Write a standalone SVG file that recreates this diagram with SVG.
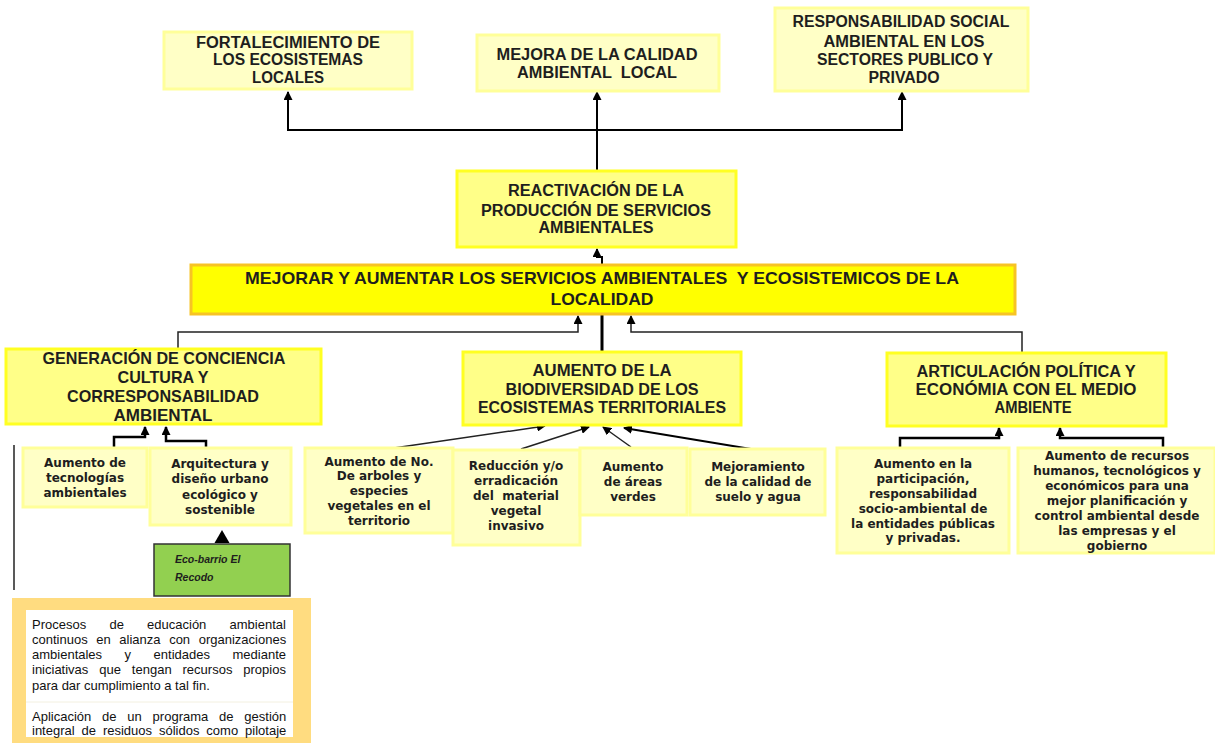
<svg xmlns="http://www.w3.org/2000/svg" width="1215" height="743" viewBox="0 0 1215 743">
<style>
.lt{fill:#FFFFC6;stroke:#FFFF99;stroke-width:3}
.md{fill:#FFFF88;stroke:#FFFF22;stroke-width:3}
.h{font-family:"Liberation Sans",Arial,sans-serif;font-weight:bold;font-size:16px;fill:#1E1E1E;text-anchor:middle}
.c{font-family:"DejaVu Sans",Verdana,sans-serif;font-weight:bold;font-size:12px;fill:#1E1E1E;text-anchor:middle}
.p{font-family:"Liberation Sans",Arial,sans-serif;font-size:13px;fill:#111}
.ln{fill:none;stroke:#000;stroke-width:2}
.tn{fill:none;stroke:#222;stroke-width:1.5}
.pre{white-space:pre}
</style>
<defs>
<marker id="ah" markerUnits="userSpaceOnUse" markerWidth="9" markerHeight="9" refX="8" refY="4.5" orient="auto">
<path d="M0,0 L9,4.5 L0,9 z" fill="#000"/>
</marker>
</defs>
<rect width="1215" height="743" fill="#fff"/>

<g id="connectors">
<path class="ln" d="M597,171 V92" marker-end="url(#ah)"/>
<path class="ln" d="M597,130 H288 V92" marker-end="url(#ah)"/>
<path class="ln" d="M597,130 H902 V92" marker-end="url(#ah)"/>
<path class="ln" d="M602,265 V257 H597 V249" marker-end="url(#ah)"/>
<path class="ln" d="M602,352 V315" style="stroke-width:3"/>
<path class="tn" d="M178,349 V332 H578 V316" marker-end="url(#ah)"/>
<path class="tn" d="M1022,353 V332 H631 V316" marker-end="url(#ah)"/>
<path class="ln" d="M114,448 V437 H145 V427" style="stroke-width:2.5" marker-end="url(#ah)"/>
<path class="ln" d="M206,448 V441 H166 V427" style="stroke-width:2.5" marker-end="url(#ah)"/>
<path class="tn" d="M387,449 L545,426" marker-end="url(#ah)"/>
<path class="tn" d="M521,449 L589,427" marker-end="url(#ah)"/>
<path class="tn" d="M631,447 L603,427" marker-end="url(#ah)"/>
<path class="ln" d="M757,450 L624,428" marker-end="url(#ah)"/>
<path class="ln" d="M900,448 V438 H999 V428" style="stroke-width:2.5" marker-end="url(#ah)"/>
<path class="ln" d="M1163,448 V438 H1060 V428" style="stroke-width:2.5" marker-end="url(#ah)"/>
<polygon points="222,530 214.5,543 229.5,543" fill="#000"/>
<line x1="14" y1="445" x2="14" y2="590" stroke="#222" stroke-width="1.5"/>
</g>

<g id="n-fortalecimiento">
<rect class="lt" x="164" y="32" width="248" height="57"/>
<text class="h" x="288" y="48" textLength="184" lengthAdjust="spacingAndGlyphs">FORTALECIMIENTO DE</text>
<text class="h" x="288" y="65" textLength="150" lengthAdjust="spacingAndGlyphs">LOS ECOSISTEMAS</text>
<text class="h" x="288" y="83" textLength="72" lengthAdjust="spacingAndGlyphs">LOCALES</text>
</g>

<g id="n-mejora">
<rect class="lt" x="477" y="35" width="242" height="56"/>
<text class="h" x="597" y="60" textLength="201" lengthAdjust="spacingAndGlyphs">MEJORA DE LA CALIDAD</text>
<text class="h pre" x="597" y="78" textLength="160" lengthAdjust="spacingAndGlyphs">AMBIENTAL  LOCAL</text>
</g>

<g id="n-responsabilidad">
<rect class="lt" x="775" y="8" width="253" height="83"/>
<text class="h" x="901" y="27" textLength="217" lengthAdjust="spacingAndGlyphs">RESPONSABILIDAD SOCIAL</text>
<text class="h" x="904" y="47" textLength="161" lengthAdjust="spacingAndGlyphs">AMBIENTAL EN LOS</text>
<text class="h" x="905" y="65" textLength="176" lengthAdjust="spacingAndGlyphs">SECTORES PUBLICO Y</text>
<text class="h" x="904" y="83" textLength="71" lengthAdjust="spacingAndGlyphs">PRIVADO</text>
</g>

<g id="n-reactivacion">
<rect class="md" x="457" y="171" width="279" height="76"/>
<text class="h" x="596" y="196" textLength="176" lengthAdjust="spacingAndGlyphs">REACTIVACIÓN DE LA</text>
<text class="h" x="596" y="216" textLength="230" lengthAdjust="spacingAndGlyphs">PRODUCCIÓN DE SERVICIOS</text>
<text class="h" x="596" y="233" textLength="115" lengthAdjust="spacingAndGlyphs">AMBIENTALES</text>
</g>

<g id="n-mejorar">
<rect x="191" y="265" width="824" height="49" fill="#FFFF00" stroke="#F7C325" stroke-width="3"/>
<text class="h pre" x="602" y="284" style="font-size:17px" textLength="714" lengthAdjust="spacingAndGlyphs">MEJORAR Y AUMENTAR LOS SERVICIOS AMBIENTALES  Y ECOSISTEMICOS DE LA</text>
<text class="h" x="602" y="305" style="font-size:17px" textLength="103" lengthAdjust="spacingAndGlyphs">LOCALIDAD</text>
</g>

<g id="n-generacion">
<rect class="md" x="6" y="349" width="315" height="75"/>
<text class="h" x="164" y="364" style="font-size:17px" textLength="243" lengthAdjust="spacingAndGlyphs">GENERACIÓN DE CONCIENCIA</text>
<text class="h" x="163" y="383" style="font-size:17px" textLength="91" lengthAdjust="spacingAndGlyphs">CULTURA Y</text>
<text class="h" x="163" y="402" style="font-size:17px" textLength="192" lengthAdjust="spacingAndGlyphs">CORRESPONSABILIDAD</text>
<text class="h" x="163" y="421" style="font-size:17px" textLength="99" lengthAdjust="spacingAndGlyphs">AMBIENTAL</text>
</g>

<g id="n-biodiversidad">
<rect class="md" x="463" y="352" width="278" height="73"/>
<text class="h" x="602" y="376" textLength="139" lengthAdjust="spacingAndGlyphs">AUMENTO DE LA</text>
<text class="h" x="602" y="395" textLength="193" lengthAdjust="spacingAndGlyphs">BIODIVERSIDAD DE LOS</text>
<text class="h" x="602" y="413" textLength="248" lengthAdjust="spacingAndGlyphs">ECOSISTEMAS TERRITORIALES</text>
</g>

<g id="n-articulacion">
<rect class="md" x="887" y="353" width="279" height="73"/>
<text class="h" x="1026" y="377" textLength="219" lengthAdjust="spacingAndGlyphs">ARTICULACIÓN POLÍTICA Y</text>
<text class="h" x="1026" y="395" textLength="221" lengthAdjust="spacingAndGlyphs">ECONÓMIA CON EL MEDIO</text>
<text class="h" x="1033" y="413" textLength="77" lengthAdjust="spacingAndGlyphs">AMBIENTE</text>
</g>

<g id="n-tecnologias">
<rect class="lt" x="23" y="448" width="124" height="59"/>
<text class="c" x="85" y="467">Aumento de</text>
<text class="c" x="85" y="482">tecnologías</text>
<text class="c" x="85" y="497">ambientales</text>
</g>

<g id="n-arquitectura">
<rect class="lt" x="150" y="448" width="141" height="77"/>
<text class="c" x="220" y="468">Arquitectura y</text>
<text class="c" x="220" y="483">diseño urbano</text>
<text class="c" x="220" y="499">ecológico y</text>
<text class="c" x="220" y="514">sostenible</text>
</g>

<g id="n-ecobarrio">
<rect x="154" y="544" width="136" height="52" fill="#92D050" stroke="#333" stroke-width="1.5"/>
<text x="175" y="563" font-family="Liberation Sans, Arial, sans-serif" font-weight="bold" font-style="italic" font-size="10.5" fill="#1E1E1E">Eco-barrio El</text>
<text x="175" y="581" font-family="Liberation Sans, Arial, sans-serif" font-weight="bold" font-style="italic" font-size="10.5" fill="#1E1E1E">Recodo</text>
</g>

<g id="n-procesos">
<rect x="12" y="598" width="299" height="145" fill="#FFDC80"/>
<rect x="26" y="610" width="267" height="127" fill="#fff"/>
<line x1="26" y1="702" x2="293" y2="702" stroke="#F3F0E0" stroke-width="1"/>
<text class="p" x="32" y="629" word-spacing="19.6">Procesos de educación ambiental</text>
<text class="p" x="32" y="644" word-spacing="5">continuos en alianza con organizaciones</text>
<text class="p" x="32" y="659" word-spacing="18.9">ambientales y entidades mediante</text>
<text class="p" x="32" y="674" word-spacing="7.3">iniciativas que tengan recursos propios</text>
<text class="p" x="32" y="690">para dar cumplimiento a tal fin.</text>
<text class="p" x="32" y="721" word-spacing="7.2">Aplicación de un programa de gestión</text>
<text class="p" x="32" y="735" word-spacing="3.3">integral de residuos sólidos como pilotaje</text>
</g>

<g id="n-arboles">
<rect class="lt" x="305" y="448" width="148" height="85"/>
<text class="c" x="379" y="466">Aumento de No.</text>
<text class="c" x="379" y="480">De arboles y</text>
<text class="c" x="379" y="495">especies</text>
<text class="c" x="379" y="510">vegetales en el</text>
<text class="c" x="379" y="525">territorio</text>
</g>

<g id="n-reduccion">
<rect class="lt" x="453" y="450" width="127" height="95"/>
<text class="c" x="516" y="470">Reducción y/o</text>
<text class="c" x="516" y="485">erradicación</text>
<text class="c pre" x="516" y="500">del  material</text>
<text class="c" x="516" y="515">vegetal</text>
<text class="c" x="516" y="530">invasivo</text>
</g>

<g id="n-areas">
<rect class="lt" x="580" y="448" width="107" height="67"/>
<text class="c" x="633" y="471">Aumento</text>
<text class="c" x="633" y="486">de áreas</text>
<text class="c" x="633" y="501">verdes</text>
</g>

<g id="n-suelo">
<rect class="lt" x="690" y="449" width="135" height="66"/>
<text class="c" x="758" y="471">Mejoramiento</text>
<text class="c" x="758" y="486">de la calidad de</text>
<text class="c" x="758" y="501">suelo y agua</text>
</g>

<g id="n-participacion">
<rect class="lt" x="837" y="448" width="172" height="105"/>
<text class="c" x="923" y="468">Aumento en la</text>
<text class="c" x="923" y="483">participación,</text>
<text class="c" x="923" y="498">responsabilidad</text>
<text class="c" x="923" y="513">socio-ambiental de</text>
<text class="c" x="923" y="528">la entidades públicas</text>
<text class="c" x="923" y="542">y privadas.</text>
</g>

<g id="n-recursos">
<rect class="lt" x="1018" y="448" width="197" height="105"/>
<text class="c" x="1117" y="460">Aumento de recursos</text>
<text class="c" x="1117" y="475">humanos, tecnológicos y</text>
<text class="c" x="1117" y="490">económicos para una</text>
<text class="c" x="1117" y="505">mejor planificación y</text>
<text class="c" x="1117" y="520">control ambiental desde</text>
<text class="c" x="1117" y="535">las empresas y el</text>
<text class="c" x="1117" y="550">gobierno</text>
</g>
</svg>
